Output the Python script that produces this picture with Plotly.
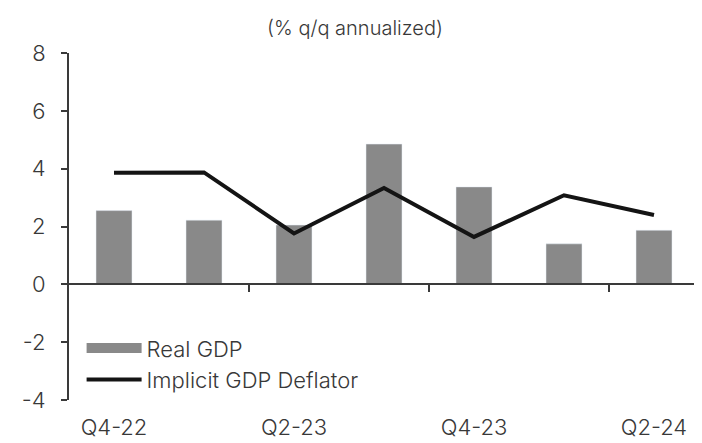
import plotly.graph_objects as go

categories = ["Q4-22", "Q1-23", "Q2-23", "Q3-23", "Q4-23", "Q1-24", "Q2-24"]
real_gdp = [2.55, 2.22, 2.05, 4.85, 3.37, 1.4, 1.87]
gdp_deflator = [3.86, 3.87, 1.76, 3.33, 1.64, 3.08, 2.4]
y_ticks = [-4, -2, 0, 2, 4, 6, 8]
y_tick_labels = ["-4", "-2", "0", "2", "4", "6", "8"]

n = len(categories)
idx = list(range(n))
label_idx = idx[::2]
boundary_ticks = [i + 0.5 for i in range(1, n - 1, 2)]

FONT = "Inter"
TXT = "#383838"
AX = "#3a3a3a"
BAR = "#898989"
LINE = "#141414"
W = 300
FS = 22

fig = go.Figure()
fig.add_trace(go.Bar(x=idx, y=real_gdp, name="Real GDP", marker_color=BAR,
                     width=0.4, showlegend=False))
fig.add_trace(go.Scatter(x=[None], y=[None], mode="lines", name="Real GDP",
                         line=dict(color=BAR, width=12), xaxis="x2"))
fig.add_trace(go.Scatter(x=idx, y=gdp_deflator, mode="lines",
                         name="Implicit GDP Deflator",
                         line=dict(color=LINE, width=4), xaxis="x2"))

# page body has an 8px default margin, so the figure is sized to fit the window
fig.update_layout(
    width=694, height=435,
    margin=dict(l=61, r=3, t=45, b=43),
    paper_bgcolor="white", plot_bgcolor="white",
    font=dict(family=FONT, size=FS, color=TXT, weight=W),
    title=dict(text="(% q/q annualized)", x=0.5, xanchor="center",
               y=0.955, yanchor="middle",
               font=dict(size=20, color=TXT, weight=W)),
    xaxis=dict(range=[-0.5, n - 0.5], tickmode="array", tickvals=label_idx,
               ticktext=categories[::2], showline=False, ticks="",
               showgrid=False, zeroline=False, ticklabelstandoff=12,
               tickfont=dict(size=FS, color=TXT, weight=W)),
    xaxis2=dict(overlaying="x", matches="x", anchor="free",
                position=(0 - y_ticks[0]) / (y_ticks[-1] - y_ticks[0]),
                showline=True, linecolor=AX, linewidth=2,
                ticks="outside", ticklen=7, tickwidth=2, tickcolor=AX,
                tickmode="array", tickvals=boundary_ticks,
                showticklabels=False, showgrid=False, zeroline=False),
    yaxis=dict(range=[y_ticks[0], y_ticks[-1]], tickmode="array",
               tickvals=y_ticks, ticktext=y_tick_labels,
               showline=True, linecolor=AX, linewidth=2,
               ticks="outside", ticklen=6, tickwidth=2, tickcolor=AX,
               showgrid=False, zeroline=False, ticklabelstandoff=11,
               tickfont=dict(size=FS, color=TXT, weight=W)),
    legend=dict(x=0.02, y=0.21, xanchor="left", yanchor="top",
                bgcolor="rgba(0,0,0,0)",
                font=dict(size=FS, color=TXT, weight=W),
                tracegroupgap=0, itemwidth=55),
    bargap=0.6,
)

fig.write_html("out.html")
